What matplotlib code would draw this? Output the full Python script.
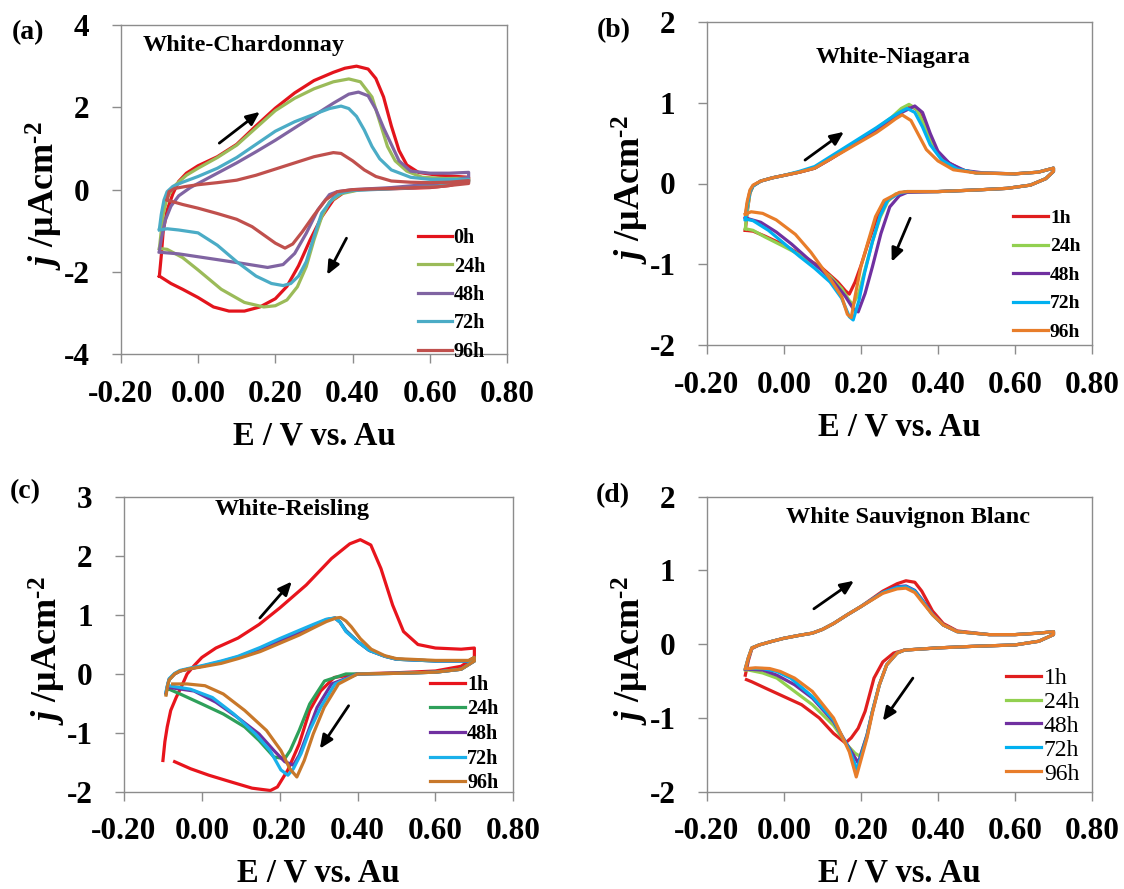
import matplotlib
matplotlib.use('Agg')
import matplotlib.pyplot as plt

W, H = 1124, 889

# ---------------- data ----------------
x_ticks = [-0.2, 0.0, 0.2, 0.4, 0.6, 0.8]
x_tick_labels = ['-0.20', '0.00', '0.20', '0.40', '0.60', '0.80']

# (a) White-Chardonnay
chard_labels = ['0h', '24h', '48h', '72h', '96h']
chard_colors = ['#e3141c', '#9bbb59', '#8064a2', '#4bacc6', '#c0504d']
chard_yticks = [-4, -2, 0, 2, 4]

chard_E_0h = [-0.10, -0.095, -0.09, -0.08, -0.065, -0.05, -0.03, 0.00, 0.05, 0.10, 0.15, 0.20, 0.25, 0.30,
              0.35, 0.38, 0.41, 0.44, 0.46, 0.48, 0.50, 0.52, 0.54, 0.57, 0.62, 0.67, 0.70,
              0.70, 0.65, 0.60, 0.50, 0.42, 0.38, 0.35, 0.32, 0.29, 0.26, 0.23, 0.20, 0.16, 0.12, 0.08,
              0.04, 0.00, -0.04, -0.07, -0.09, -0.10]
chard_j_0h = [-2.10, -1.60, -1.00, -0.50, -0.10, 0.20, 0.40, 0.58, 0.80, 1.10, 1.55, 1.98, 2.35, 2.65,
              2.85, 2.95, 3.00, 2.93, 2.70, 2.25, 1.55, 0.95, 0.60, 0.42, 0.35, 0.32, 0.30,
              0.22, 0.10, 0.05, 0.02, 0.00, -0.05, -0.25, -0.66, -1.22, -1.85, -2.35, -2.65, -2.85, -2.95, -2.95,
              -2.85, -2.62, -2.42, -2.28, -2.16, -2.10]

chard_E_24h = [-0.10, -0.095, -0.09, -0.08, -0.06, -0.03, 0.00, 0.05, 0.10, 0.15, 0.20, 0.25, 0.30, 0.35,
               0.39, 0.42, 0.45, 0.47, 0.49, 0.51, 0.54, 0.58, 0.64, 0.70,
               0.70, 0.62, 0.50, 0.42, 0.37, 0.34, 0.32, 0.30, 0.28, 0.257, 0.23, 0.20, 0.17, 0.12, 0.06,
               0.00, -0.04, -0.08, -0.10]
chard_j_24h = [-1.43, -1.00, -0.60, -0.20, 0.10, 0.35, 0.52, 0.78, 1.08, 1.50, 1.92, 2.22, 2.45, 2.62,
               2.69, 2.62, 2.25, 1.65, 1.05, 0.70, 0.45, 0.30, 0.27, 0.28,
               0.20, 0.10, 0.03, 0.00, -0.10, -0.30, -0.66, -1.22, -1.87, -2.36, -2.68, -2.82, -2.85, -2.74, -2.42,
               -1.95, -1.65, -1.45, -1.43]

chard_E_48h = [-0.10, -0.095, -0.085, -0.07, -0.05, -0.02, 0.00, 0.05, 0.10, 0.15, 0.20, 0.25, 0.30, 0.35,
               0.39, 0.415, 0.44, 0.46, 0.48, 0.50, 0.52, 0.55, 0.60, 0.65, 0.70,
               0.70, 0.62, 0.50, 0.40, 0.36, 0.34, 0.31, 0.28, 0.25, 0.22, 0.18, 0.12, 0.05, 0.00, -0.05, -0.10]
chard_j_48h = [-1.50, -1.20, -0.75, -0.40, -0.15, 0.05, 0.15, 0.40, 0.65, 0.92, 1.20, 1.50, 1.80, 2.10,
               2.32, 2.37, 2.28, 1.95, 1.50, 1.10, 0.70, 0.45, 0.40, 0.40, 0.42,
               0.30, 0.15, 0.05, 0.00, -0.05, -0.12, -0.49, -1.06, -1.55, -1.82, -1.89, -1.80, -1.70, -1.63, -1.56, -1.52]

chard_E_72h = [-0.10, -0.095, -0.088, -0.08, -0.065, -0.04, 0.00, 0.05, 0.10, 0.15, 0.20, 0.25, 0.30, 0.34,
               0.37, 0.39, 0.41, 0.43, 0.45, 0.47, 0.50, 0.55, 0.60, 0.70,
               0.70, 0.62, 0.50, 0.40, 0.37, 0.35, 0.32, 0.30, 0.28, 0.26, 0.24, 0.22, 0.19, 0.15, 0.10,
               0.05, 0.00, -0.05, -0.08, -0.10]
chard_j_72h = [-0.96, -0.60, -0.25, -0.05, 0.08, 0.18, 0.32, 0.52, 0.78, 1.10, 1.42, 1.65, 1.83, 1.97,
               2.03, 1.97, 1.78, 1.45, 1.05, 0.75, 0.48, 0.30, 0.25, 0.25,
               0.18, 0.08, 0.02, -0.02, -0.08, -0.20, -0.57, -1.14, -1.75, -2.10, -2.28, -2.33, -2.28, -2.10, -1.75,
               -1.35, -1.05, -0.98, -0.95, -0.98]

chard_E_96h = [-0.08, -0.075, -0.06, -0.03, 0.00, 0.05, 0.10, 0.15, 0.20, 0.25, 0.30, 0.35, 0.37, 0.40,
               0.43, 0.46, 0.50, 0.55, 0.60, 0.65, 0.70,
               0.70, 0.62, 0.50, 0.40, 0.36, 0.33, 0.30, 0.27, 0.245, 0.225, 0.20, 0.17, 0.14, 0.10, 0.05,
               0.00, -0.04, -0.07, -0.08]
chard_j_96h = [-0.25, -0.05, 0.03, 0.08, 0.12, 0.17, 0.23, 0.35, 0.50, 0.65, 0.80, 0.90, 0.88, 0.70,
               0.48, 0.32, 0.21, 0.18, 0.17, 0.18, 0.22,
               0.15, 0.07, 0.03, 0.00, -0.05, -0.25, -0.62, -1.02, -1.32, -1.42, -1.30, -1.10, -0.90, -0.72, -0.58,
               -0.45, -0.36, -0.28, -0.25]

# (b) White-Niagara
hours_labels = ['1h', '24h', '48h', '72h', '96h']
niag_colors = ['#e01e1e', '#92d050', '#7030a0', '#00b0f0', '#e87d2a']
niag_yticks = [-2, -1, 0, 1, 2]

niag_E_1h = [-0.10, -0.095, -0.088, -0.08, -0.06, -0.03, 0.00, 0.04, 0.08, 0.12, 0.16, 0.20, 0.24, 0.28,
             0.31, 0.33, 0.35, 0.37, 0.39, 0.42, 0.46, 0.50, 0.60, 0.66, 0.70,
             0.70, 0.68, 0.64, 0.58, 0.50, 0.40, 0.32, 0.29, 0.26, 0.24, 0.22, 0.20, 0.185, 0.17, 0.16,
             0.14, 0.10, 0.05, 0.00, -0.05, -0.08, -0.10]
niag_j_1h = [-0.58, -0.35, -0.12, -0.03, 0.03, 0.07, 0.10, 0.14, 0.19, 0.30, 0.42, 0.54, 0.66, 0.80,
             0.91, 0.96, 0.90, 0.68, 0.45, 0.28, 0.17, 0.13, 0.12, 0.14, 0.19,
             0.15, 0.06, -0.02, -0.06, -0.08, -0.10, -0.10, -0.14, -0.25, -0.45, -0.72, -1.02, -1.22, -1.37, -1.33,
             -1.22, -1.05, -0.90, -0.76, -0.65, -0.59, -0.58]

niag_E_24h = [-0.10, -0.095, -0.088, -0.08, -0.06, -0.03, 0.00, 0.04, 0.08, 0.12, 0.16, 0.20, 0.24, 0.28,
              0.305, 0.325, 0.345, 0.365, 0.385, 0.41, 0.45, 0.50, 0.60, 0.66, 0.70,
              0.70, 0.68, 0.64, 0.58, 0.50, 0.40, 0.32, 0.29, 0.27, 0.25, 0.23, 0.21, 0.195, 0.18, 0.17,
              0.15, 0.12, 0.08, 0.04, 0.00, -0.05, -0.08, -0.10]
niag_j_24h = [-0.56, -0.33, -0.12, -0.03, 0.03, 0.07, 0.10, 0.14, 0.19, 0.31, 0.43, 0.55, 0.68, 0.82,
              0.93, 0.98, 0.92, 0.72, 0.48, 0.30, 0.18, 0.13, 0.12, 0.14, 0.19,
              0.15, 0.06, -0.02, -0.06, -0.08, -0.10, -0.10, -0.13, -0.22, -0.42, -0.72, -1.08, -1.35, -1.50, -1.45,
              -1.30, -1.15, -1.00, -0.88, -0.78, -0.66, -0.58, -0.56]

niag_E_48h = [-0.10, -0.095, -0.088, -0.08, -0.06, -0.03, 0.00, 0.04, 0.08, 0.12, 0.16, 0.20, 0.24, 0.28,
              0.31, 0.34, 0.36, 0.38, 0.40, 0.43, 0.47, 0.52, 0.60, 0.66, 0.70,
              0.70, 0.68, 0.64, 0.58, 0.50, 0.40, 0.32, 0.30, 0.275, 0.252, 0.23, 0.211, 0.193, 0.18, 0.16,
              0.13, 0.10, 0.06, 0.02, -0.02, -0.06, -0.09, -0.10]
niag_j_48h = [-0.42, -0.25, -0.10, -0.03, 0.03, 0.07, 0.10, 0.14, 0.19, 0.30, 0.42, 0.54, 0.66, 0.79,
              0.89, 0.96, 0.88, 0.62, 0.40, 0.25, 0.16, 0.13, 0.12, 0.14, 0.19,
              0.15, 0.06, -0.02, -0.06, -0.08, -0.10, -0.11, -0.15, -0.29, -0.62, -1.03, -1.36, -1.59, -1.55, -1.40,
              -1.22, -1.08, -0.92, -0.75, -0.60, -0.48, -0.44, -0.42]

niag_E_72h = [-0.10, -0.095, -0.088, -0.08, -0.06, -0.03, 0.00, 0.04, 0.08, 0.12, 0.16, 0.20, 0.24, 0.28,
              0.30, 0.32, 0.34, 0.36, 0.38, 0.41, 0.45, 0.50, 0.60, 0.66, 0.70,
              0.70, 0.68, 0.64, 0.58, 0.50, 0.40, 0.32, 0.30, 0.27, 0.25, 0.23, 0.21, 0.195, 0.18, 0.17,
              0.15, 0.12, 0.08, 0.04, 0.00, -0.04, -0.08, -0.10]
niag_j_72h = [-0.45, -0.27, -0.10, -0.03, 0.03, 0.07, 0.10, 0.15, 0.21, 0.33, 0.45, 0.57, 0.69, 0.82,
              0.88, 0.93, 0.88, 0.70, 0.48, 0.29, 0.18, 0.13, 0.12, 0.14, 0.19,
              0.15, 0.06, -0.02, -0.06, -0.08, -0.10, -0.10, -0.12, -0.20, -0.40, -0.72, -1.10, -1.45, -1.69, -1.65,
              -1.42, -1.22, -1.05, -0.90, -0.74, -0.58, -0.46, -0.44]

niag_E_96h = [-0.10, -0.095, -0.088, -0.08, -0.06, -0.03, 0.00, 0.04, 0.08, 0.12, 0.16, 0.20, 0.24, 0.27,
              0.29, 0.307, 0.33, 0.35, 0.37, 0.40, 0.44, 0.50, 0.60, 0.66, 0.70,
              0.70, 0.68, 0.64, 0.58, 0.50, 0.40, 0.32, 0.30, 0.26, 0.238, 0.22, 0.20, 0.188, 0.175, 0.165,
              0.15, 0.12, 0.07, 0.03, -0.02, -0.055, -0.085, -0.10]
niag_j_96h = [-0.38, -0.22, -0.08, -0.02, 0.03, 0.07, 0.10, 0.14, 0.19, 0.30, 0.41, 0.52, 0.63, 0.73,
              0.80, 0.85, 0.78, 0.60, 0.42, 0.28, 0.17, 0.13, 0.12, 0.14, 0.19,
              0.15, 0.06, -0.02, -0.06, -0.08, -0.10, -0.10, -0.11, -0.21, -0.41, -0.70, -1.03, -1.32, -1.66, -1.62,
              -1.40, -1.18, -0.85, -0.63, -0.45, -0.37, -0.35, -0.38]

# (c) White-Reisling
ries_colors = ['#e8141c', '#2ea05a', '#7030a0', '#1ab0ea', '#c8782a']
ries_yticks = [-2, -1, 0, 1, 2, 3]

ries_E_1h = [-0.10, -0.095, -0.089, -0.08, -0.066, -0.05, -0.038, -0.02, 0.00, 0.036, 0.093, 0.147, 0.20,
             0.268, 0.333, 0.38, 0.407, 0.434, 0.46, 0.49, 0.518, 0.555, 0.60, 0.666, 0.70,
             0.70, 0.666, 0.60, 0.50, 0.40, 0.34, 0.305, 0.277, 0.25, 0.221, 0.194, 0.176, 0.129, 0.073,
             0.018, -0.029, -0.07]
ries_j_1h = [-1.47, -1.15, -0.90, -0.62, -0.40, -0.18, 0.00, 0.14, 0.28, 0.44, 0.61, 0.84, 1.12,
             1.51, 1.96, 2.21, 2.28, 2.19, 1.79, 1.17, 0.72, 0.50, 0.44, 0.42, 0.44,
             0.28, 0.13, 0.05, 0.02, 0.00, -0.06, -0.29, -0.62, -1.19, -1.63, -1.92, -1.98, -1.94, -1.83,
             -1.72, -1.61, -1.49]

ries_E_24h = [-0.092, -0.088, -0.084, -0.07, -0.056, -0.03, 0.00, 0.05, 0.093, 0.15, 0.20, 0.25, 0.286,
              0.32, 0.342, 0.355, 0.37, 0.40, 0.43, 0.47, 0.50, 0.60, 0.685, 0.70,
              0.70, 0.666, 0.60, 0.50, 0.40, 0.37, 0.315, 0.277, 0.25, 0.227, 0.213, 0.185, 0.147, 0.11,
              0.055, 0.00, -0.056, -0.084]
ries_j_24h = [-0.34, -0.20, -0.10, 0.00, 0.05, 0.09, 0.13, 0.20, 0.28, 0.42, 0.56, 0.70, 0.81,
              0.92, 0.95, 0.88, 0.74, 0.55, 0.40, 0.30, 0.25, 0.22, 0.22, 0.28,
              0.22, 0.08, 0.03, 0.01, 0.00, 0.00, -0.12, -0.51, -0.96, -1.30, -1.44, -1.41, -1.13, -0.90,
              -0.68, -0.51, -0.34, -0.26]

ries_E_48h = [-0.092, -0.088, -0.084, -0.07, -0.056, -0.03, 0.00, 0.05, 0.093, 0.15, 0.20, 0.25, 0.286,
              0.32, 0.342, 0.355, 0.37, 0.40, 0.43, 0.47, 0.50, 0.60, 0.685, 0.70,
              0.70, 0.666, 0.60, 0.50, 0.40, 0.333, 0.296, 0.268, 0.25, 0.235, 0.213, 0.185, 0.147, 0.092,
              0.036, -0.02, -0.084]
ries_j_48h = [-0.32, -0.19, -0.09, 0.00, 0.05, 0.09, 0.13, 0.21, 0.29, 0.43, 0.57, 0.71, 0.82,
              0.92, 0.95, 0.88, 0.73, 0.55, 0.40, 0.30, 0.25, 0.22, 0.22, 0.27,
              0.22, 0.08, 0.03, 0.01, 0.00, -0.17, -0.57, -1.07, -1.38, -1.55, -1.49, -1.30, -1.02, -0.74,
              -0.48, -0.29, -0.23]

ries_E_72h = [-0.092, -0.088, -0.084, -0.07, -0.056, -0.03, 0.00, 0.05, 0.093, 0.15, 0.20, 0.25, 0.286,
              0.32, 0.342, 0.355, 0.37, 0.40, 0.43, 0.47, 0.50, 0.60, 0.685, 0.70,
              0.70, 0.666, 0.60, 0.50, 0.40, 0.342, 0.305, 0.277, 0.255, 0.235, 0.221, 0.203, 0.175, 0.138,
              0.082, 0.027, -0.029, -0.084]
ries_j_72h = [-0.30, -0.18, -0.08, 0.01, 0.06, 0.10, 0.14, 0.22, 0.30, 0.45, 0.60, 0.74, 0.84,
              0.93, 0.95, 0.88, 0.72, 0.55, 0.40, 0.30, 0.25, 0.22, 0.22, 0.26,
              0.22, 0.08, 0.03, 0.01, 0.00, -0.17, -0.57, -0.96, -1.35, -1.61, -1.72, -1.63, -1.30, -1.02,
              -0.68, -0.40, -0.26, -0.20]

ries_E_96h = [-0.092, -0.088, -0.084, -0.07, -0.056, -0.03, 0.00, 0.05, 0.093, 0.15, 0.20, 0.25, 0.286,
              0.32, 0.345, 0.356, 0.37, 0.384, 0.407, 0.435, 0.47, 0.50, 0.60, 0.685, 0.70,
              0.70, 0.666, 0.60, 0.50, 0.40, 0.351, 0.314, 0.286, 0.263, 0.244, 0.226, 0.203, 0.166, 0.11,
              0.055, 0.008, -0.038, -0.075]
ries_j_96h = [-0.36, -0.20, -0.10, 0.00, 0.05, 0.09, 0.12, 0.18, 0.26, 0.38, 0.52, 0.66, 0.78,
              0.89, 0.95, 0.96, 0.90, 0.80, 0.60, 0.42, 0.31, 0.26, 0.23, 0.23, 0.28,
              0.22, 0.08, 0.03, 0.01, 0.00, -0.17, -0.57, -1.02, -1.47, -1.75, -1.61, -1.30, -0.96, -0.62,
              -0.34, -0.20, -0.17, -0.17]

# (d) White Sauvignon Blanc
sauv_colors = ['#e01e1e', '#92d050', '#7030a0', '#00b0f0', '#e87d2a']
sauv_yticks = [-2, -1, 0, 1, 2]

sauv_E_1h = [-0.10, -0.092, -0.083, -0.064, -0.03, 0.00, 0.04, 0.074, 0.10, 0.129, 0.165, 0.20, 0.257,
             0.294, 0.317, 0.34, 0.358, 0.386, 0.414, 0.45, 0.533, 0.60, 0.662, 0.70,
             0.70, 0.662, 0.60, 0.487, 0.40, 0.313, 0.285, 0.257, 0.234, 0.211, 0.193, 0.175, 0.16, 0.129,
             0.092, 0.046, 0.00, -0.046, -0.083, -0.097]
sauv_j_1h = [-0.42, -0.22, -0.06, -0.01, 0.04, 0.08, 0.12, 0.15, 0.20, 0.28, 0.40, 0.51, 0.72,
             0.82, 0.86, 0.84, 0.72, 0.45, 0.28, 0.18, 0.13, 0.13, 0.15, 0.17,
             0.13, 0.04, -0.01, -0.03, -0.05, -0.08, -0.12, -0.24, -0.46, -0.91, -1.14, -1.27, -1.34, -1.21,
             -1.00, -0.82, -0.71, -0.60, -0.51, -0.48]

sauv_E_24h = [-0.10, -0.092, -0.083, -0.064, -0.03, 0.00, 0.04, 0.074, 0.10, 0.129, 0.165, 0.20, 0.257,
              0.294, 0.317, 0.34, 0.358, 0.386, 0.414, 0.45, 0.533, 0.60, 0.662, 0.70,
              0.70, 0.662, 0.60, 0.487, 0.40, 0.313, 0.294, 0.267, 0.248, 0.23, 0.216, 0.198, 0.185, 0.165,
              0.129, 0.074, 0.028, -0.018, -0.055, -0.092]
sauv_j_24h = [-0.35, -0.19, -0.05, -0.01, 0.04, 0.08, 0.12, 0.15, 0.20, 0.28, 0.40, 0.51, 0.70,
              0.77, 0.78, 0.72, 0.60, 0.40, 0.26, 0.17, 0.13, 0.13, 0.15, 0.17,
              0.13, 0.04, -0.01, -0.03, -0.05, -0.08, -0.12, -0.28, -0.55, -0.91, -1.23, -1.52, -1.48, -1.37,
              -1.10, -0.82, -0.64, -0.46, -0.39, -0.35]

sauv_E_48h = [-0.10, -0.092, -0.083, -0.064, -0.03, 0.00, 0.04, 0.074, 0.10, 0.129, 0.165, 0.20, 0.257,
              0.294, 0.317, 0.34, 0.358, 0.386, 0.414, 0.45, 0.533, 0.60, 0.662, 0.70,
              0.70, 0.662, 0.60, 0.487, 0.40, 0.313, 0.294, 0.267, 0.248, 0.23, 0.216, 0.193, 0.17, 0.129,
              0.074, 0.028, -0.018, -0.055, -0.092]
sauv_j_48h = [-0.34, -0.19, -0.05, -0.01, 0.04, 0.08, 0.12, 0.15, 0.20, 0.28, 0.40, 0.51, 0.70,
              0.78, 0.79, 0.73, 0.61, 0.41, 0.26, 0.17, 0.13, 0.13, 0.15, 0.17,
              0.13, 0.04, -0.01, -0.03, -0.05, -0.08, -0.12, -0.28, -0.55, -0.91, -1.23, -1.61, -1.41, -1.05,
              -0.73, -0.55, -0.42, -0.35, -0.34]

sauv_E_72h = [-0.10, -0.092, -0.083, -0.064, -0.03, 0.00, 0.04, 0.074, 0.10, 0.129, 0.165, 0.20, 0.257,
              0.294, 0.317, 0.34, 0.358, 0.386, 0.414, 0.45, 0.533, 0.60, 0.662, 0.70,
              0.70, 0.662, 0.60, 0.487, 0.40, 0.313, 0.294, 0.267, 0.248, 0.23, 0.216, 0.19, 0.17, 0.129,
              0.074, 0.018, -0.018, -0.055, -0.092]
sauv_j_72h = [-0.33, -0.18, -0.05, -0.01, 0.04, 0.08, 0.12, 0.15, 0.20, 0.28, 0.40, 0.51, 0.70,
              0.77, 0.78, 0.72, 0.60, 0.40, 0.26, 0.17, 0.13, 0.13, 0.15, 0.17,
              0.13, 0.04, -0.01, -0.03, -0.05, -0.08, -0.12, -0.28, -0.55, -0.91, -1.25, -1.70, -1.43, -1.03,
              -0.71, -0.46, -0.37, -0.33, -0.33]

sauv_E_96h = [-0.10, -0.092, -0.083, -0.064, -0.03, 0.00, 0.04, 0.074, 0.10, 0.129, 0.165, 0.20, 0.257,
              0.294, 0.317, 0.34, 0.358, 0.386, 0.414, 0.45, 0.533, 0.60, 0.662, 0.70,
              0.70, 0.662, 0.60, 0.487, 0.40, 0.313, 0.294, 0.267, 0.248, 0.23, 0.216, 0.188, 0.17, 0.129,
              0.074, 0.028, -0.009, -0.037, -0.074, -0.092]
sauv_j_96h = [-0.33, -0.18, -0.05, -0.01, 0.04, 0.08, 0.12, 0.15, 0.20, 0.28, 0.40, 0.51, 0.69,
              0.75, 0.76, 0.70, 0.58, 0.40, 0.26, 0.17, 0.13, 0.13, 0.15, 0.17,
              0.13, 0.04, -0.01, -0.03, -0.05, -0.08, -0.12, -0.28, -0.55, -0.93, -1.27, -1.80, -1.46, -1.00,
              -0.64, -0.46, -0.37, -0.33, -0.32, -0.33]

# ---------------- style ----------------
plt.rcParams['font.family'] = ['Liberation Serif', 'DejaVu Serif']
plt.rcParams['font.weight'] = 'bold'
plt.rcParams['axes.unicode_minus'] = False
plt.rcParams['mathtext.fontset'] = 'custom'
plt.rcParams['mathtext.rm'] = 'Liberation Serif:weight=bold'
plt.rcParams['mathtext.it'] = 'Liberation Serif:style=italic:weight=bold'
plt.rcParams['mathtext.bf'] = 'Liberation Serif:weight=bold'

GRAY = '#8c8c8c'
PT = 72.0 / 100  # points per pixel at dpi 100

fig = plt.figure(figsize=(W / 100, H / 100), dpi=100)


def px(x, y):
    return x / W, 1 - y / H


def rect(left, right, top, bottom):
    return [left / W, 1 - bottom / H, (right - left) / W, (bottom - top) / H]


def draw_panel(box, curves, colors, labels, ylim, yticks, title, title_pos, tag, tag_pos,
               arrows, leg_pos, leg_size, leg_weight, leg_spacing, leg_handle):
    ax = fig.add_axes(box)
    for (E, j), c, lab in zip(curves, colors, labels):
        ax.plot(E, j, color=c, lw=2.3, label=lab, solid_joinstyle='round')
    ax.set_xlim(-0.2, 0.8)
    ax.set_ylim(*ylim)
    ax.set_xticks(x_ticks)
    ax.set_xticklabels(x_tick_labels)
    ax.set_yticks(yticks)
    ax.set_yticklabels([str(v) for v in yticks])
    for s in ax.spines.values():
        s.set_color(GRAY)
        s.set_linewidth(1.0)
    ax.tick_params(direction='out', length=6.5, width=1, color=GRAY, labelsize=22.5)
    ax.tick_params(axis='x', pad=12)
    ax.tick_params(axis='y', pad=16)

    ax.annotate('E / V vs. Au', xy=(0.5, 0), xycoords='axes fraction',
                xytext=(0, -90 * PT), textcoords='offset points',
                ha='center', va='baseline', fontsize=23.5)
    ax.annotate('$j$ /μAcm$^{\u20102}$', xy=(0, 0.5), xycoords='axes fraction',
                xytext=(-66 * PT, -6 * PT), textcoords='offset points',
                rotation=90, rotation_mode='anchor', ha='center', va='baseline', fontsize=26)

    for tail, head in arrows:
        ax.annotate('', xy=head, xytext=tail,
                    arrowprops=dict(arrowstyle='-|>,head_length=0.5,head_width=0.22',
                                    color='black', lw=2.0, mutation_scale=16,
                                    shrinkA=0, shrinkB=0))

    fig.text(*px(*title_pos), title, ha='center', va='center', fontsize=17.5)
    fig.text(*px(*tag_pos), tag, ha='center', va='center', fontsize=20)

    ax.legend(loc='center left', bbox_to_anchor=px(*leg_pos), bbox_transform=fig.transFigure,
              frameon=False, borderpad=0, borderaxespad=0, handlelength=leg_handle,
              handletextpad=0.1, labelspacing=leg_spacing,
              prop={'family': 'Liberation Serif', 'size': leg_size, 'weight': leg_weight})
    return ax


draw_panel(rect(120.7, 507.3, 25, 354.3),
           [(chard_E_0h, chard_j_0h), (chard_E_24h, chard_j_24h), (chard_E_48h, chard_j_48h),
            (chard_E_72h, chard_j_72h), (chard_E_96h, chard_j_96h)],
           chard_colors, chard_labels, (-4, 4), chard_yticks,
           'White-Chardonnay', (244, 45), '(a)', (28, 33),
           [((0.055, 1.13), (0.16, 1.89)), ((0.384, -1.18), (0.334, -2.07))],
           (418.3, 295), 14.5, 'bold', 0.42, 1.66)

draw_panel(rect(706.8, 1092, 22, 345),
           [(niag_E_1h, niag_j_1h), (niag_E_24h, niag_j_24h), (niag_E_48h, niag_j_48h),
            (niag_E_72h, niag_j_72h), (niag_E_96h, niag_j_96h)],
           niag_colors, hours_labels, (-2, 2), niag_yticks,
           'White-Niagara', (893, 58), '(b)', (614, 31),
           [((0.055, 0.29), (0.156, 0.64)), ((0.328, -0.43), (0.28, -0.97))],
           (1013, 275), 14, 'bold', 0.56, 1.8)

draw_panel(rect(124, 513.3, 497.3, 791.7),
           [(ries_E_1h, ries_j_1h), (ries_E_24h, ries_j_24h), (ries_E_48h, ries_j_48h),
            (ries_E_72h, ries_j_72h), (ries_E_96h, ries_j_96h)],
           ries_colors, hours_labels, (-2, 3), ries_yticks,
           'White-Reisling', (292, 510), '(c)', (25, 492),
           [((0.149, 0.95), (0.231, 1.57)), ((0.377, -0.54), (0.303, -1.27))],
           (430, 734), 14.5, 'bold', 0.23, 1.74)

draw_panel(rect(706.8, 1092, 496.7, 791.7),
           [(sauv_E_1h, sauv_j_1h), (sauv_E_24h, sauv_j_24h), (sauv_E_48h, sauv_j_48h),
            (sauv_E_72h, sauv_j_72h), (sauv_E_96h, sauv_j_96h)],
           sauv_colors, hours_labels, (-2, 2), sauv_yticks,
           'White Sauvignon Blanc', (908, 518), '(d)', (613, 496),
           [((0.078, 0.48), (0.182, 0.86)), ((0.335, -0.46), (0.257, -1.04))],
           (1006, 726), 17, 'normal', 0.1, 1.5)

fig.savefig('out.png', dpi=100)
